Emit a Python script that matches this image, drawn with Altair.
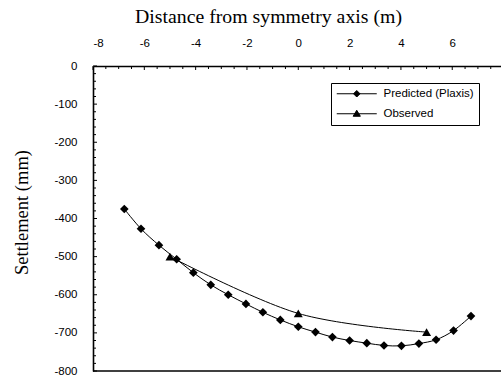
import altair as alt
import pandas as pd

# ---- data ----
x_pred = [-6.78, -6.13, -5.43, -4.74, -4.09, -3.41, -2.73, -2.04, -1.38, -0.70, 0.0,
          0.67, 1.33, 2.0, 2.67, 3.34, 4.02, 4.70, 5.37, 6.05, 6.73]
y_pred = [-375, -427, -470, -507, -542, -574, -600, -624, -646, -666, -684,
          -698, -711, -720, -727, -733, -734, -728, -718, -694, -656]
x_obs = [-5.0, 0.0, 5.0]
y_obs = [-500, -649, -698]
series_names = ["Predicted (Plaxis)", "Observed"]

x_major = [-8, -6, -4, -2, 0, 2, 4, 6]
x_minor = [-7.5, -7, -6.5, -5.5, -5, -4.5, -3.5, -3, -2.5, -1.5, -1, -0.5,
           0.5, 1, 1.5, 2.5, 3, 3.5, 4.5, 5, 5.5, 6.5, 7, 7.5]
y_major = [0, -100, -200, -300, -400, -500, -600, -700, -800]
y_minor = [v for v in range(-780, 0, 20) if v % 100 != 0]

x_title = "Distance from symmetry axis (m)"
y_title = "Settlement (mm)"

pred = pd.DataFrame({"x": x_pred, "y": y_pred, "series": series_names[0]})
obs = pd.DataFrame({"x": x_obs, "y": y_obs, "series": series_names[1]})
df = pd.concat([pred, obs])

W, H = 408, 305
xs = alt.Scale(domain=[-8, 7.9], nice=False, zero=False)
ys = alt.Scale(domain=[-800, 0], nice=False, zero=False)

SANS = "Liberation Sans"
SERIF = "Liberation Serif"

x_axis = alt.Axis(orient="top", values=x_major, labelExpr="datum.value + ''",
                  ticks=False, grid=False, domainColor="black", domainWidth=1.6,
                  labelFont=SANS, labelFontSize=11.5, labelColor="black", labelPadding=18,
                  title=x_title, titleFont=SERIF, titleFontSize=19.8, titleFontWeight="normal",
                  titleColor="black", titleX=175, titleY=-44, titleAlign="center",
                  titleBaseline="alphabetic")
y_axis = alt.Axis(orient="left", values=y_major, labelExpr="datum.value + ''",
                  ticks=False, grid=False, domainColor="black", domainWidth=1.6,
                  labelFont=SANS, labelFontSize=11.5, labelColor="black", labelPadding=16,
                  title=y_title, titleFont=SERIF, titleFontSize=18.5, titleFontWeight="normal",
                  titleColor="black", titleX=-66, titleY=146, titleAngle=270,
                  titleAlign="center", titleBaseline="alphabetic")

X = lambda f: alt.X(f, scale=xs, axis=x_axis)
Y = lambda f: alt.Y(f, scale=ys, axis=y_axis)

lines = alt.Chart(df).mark_line(color="black", strokeWidth=1, interpolate="cardinal").encode(
    x=X("x:Q"), y=Y("y:Q"), detail="series:N",
)

# legend symbols: line + marker (symbolSize 100 -> 1 unit = 5 px)
diamond_path = "M-4,0L4,0M0,-0.65L0.65,0L0,0.65L-0.65,0Z"
triangle_path = "M-4,0L4,0M0,-0.7L0.72,0.5L-0.72,0.5Z"

legend = alt.Legend(
    title=None, orient="none", legendX=238, legendY=17,
    strokeColor="black", padding=5, labelFont=SANS, labelFontSize=11.5,
    labelColor="black", symbolSize=100, symbolOffset=15, labelOffset=21,
    rowPadding=7, symbolStrokeWidth=1,
)

legend_layer = alt.Chart(df).transform_filter("false").mark_point(
    filled=True, color="black", strokeWidth=1, opacity=1
).encode(
    x=X("x:Q"), y=Y("y:Q"),
    shape=alt.Shape("series:N", scale=alt.Scale(domain=series_names,
                                                 range=[diamond_path, triangle_path]),
                    legend=legend),
    stroke=alt.Stroke("series:N", scale=alt.Scale(domain=series_names,
                                                   range=["black", "black"]),
                      legend=legend),
)

def pts(d, shape, size):
    return alt.Chart(d).mark_point(filled=True, opacity=1, color="black", shape=shape,
                                   size=size).encode(x=X("x:Q"), y=Y("y:Q"))

def xticks(vals, length):
    return alt.Chart(pd.DataFrame({"v": vals})).mark_rule(color="black", strokeWidth=1).encode(
        x=X("v:Q"), y=alt.value(0), y2=alt.value(length))

def yticks(vals, length):
    return alt.Chart(pd.DataFrame({"v": vals})).mark_rule(color="black", strokeWidth=1).encode(
        y=Y("v:Q"), x=alt.value(0), x2=alt.value(length))

bottom = alt.Chart(pd.DataFrame({"v": [min(y_major)]})).mark_rule(color="black", strokeWidth=1.6).encode(
    y=Y("v:Q"), x=alt.value(0), x2=alt.value(W))

chart = alt.layer(
    lines, xticks(x_major, 4), xticks(x_minor, 3), yticks(y_major, 4), yticks(y_minor, 3),
    bottom, pts(pred, "diamond", 75), pts(obs, "triangle-up", 80), legend_layer,
).properties(
    width=W, height=H,
    autosize=alt.AutoSizeParams(type="none"),
    padding={"left": 93, "top": 66, "right": 0, "bottom": 7},
    background="white",
).configure_view(stroke=None)

chart.save("out.html", embed_options={"renderer": "svg", "actions": False})
